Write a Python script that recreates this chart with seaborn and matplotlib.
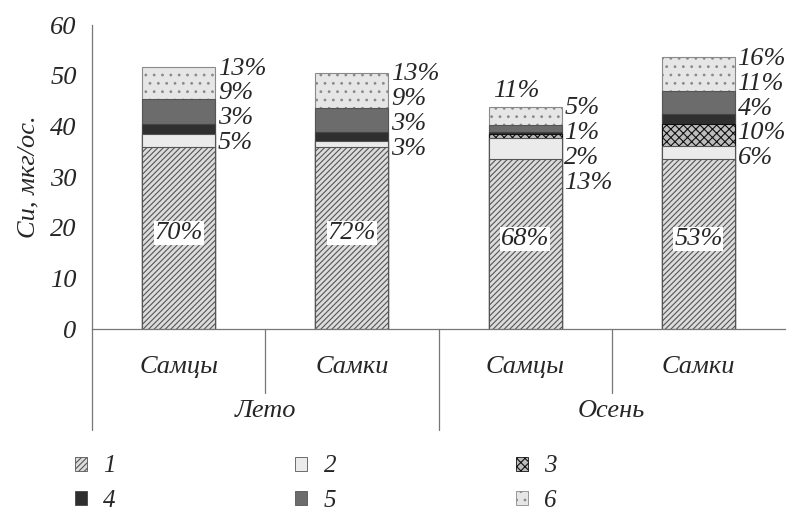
import matplotlib
matplotlib.use("Agg")
import matplotlib.pyplot as plt
import matplotlib.transforms as mtransforms
from matplotlib import font_manager as fm
from matplotlib.patches import Patch
import numpy as np
import seaborn as sns

# ---------------- data ----------------
seasons = ["Лето", "Осень"]
sexes = ["Самцы", "Самки", "Самцы", "Самки"]
bar_ids = ["Лето Самцы", "Лето Самки", "Осень Самцы", "Осень Самки"]
seg1 = [36.0, 35.9, 33.5, 33.5]
seg2 = [2.4, 1.2, 4.2, 2.6]
seg3 = [0.0, 0.0, 0.8, 4.3]
seg4 = [2.0, 1.7, 0.4, 2.0]
seg5 = [4.9, 4.9, 1.3, 4.6]
seg6 = [6.4, 6.9, 3.7, 6.6]
pct1 = [70, 72, 68, 53]
pct2 = [5, 3, 13, 6]
pct3 = [0, 0, 2, 10]
pct4 = [3, 3, 1, 4]
pct5 = [9, 9, 5, 11]
pct6 = [13, 13, 11, 16]
legend_labels = ["1", "2", "3", "4", "5", "6"]
top_label_above = [False, False, True, False]

# ---------------- style ----------------
sns.set_style("white")
names = {f.name for f in fm.fontManager.ttflist}
serif_name = "Liberation Serif" if "Liberation Serif" in names else "DejaVu Serif"
FONT = [serif_name, "DejaVu Serif"]
plt.rcParams["font.family"] = FONT
plt.rcParams["font.style"] = "italic"
plt.rcParams["hatch.linewidth"] = 0.8
FS = 19

segs = [seg1, seg2, seg3, seg4, seg5, seg6]
pcts = [pct1, pct2, pct3, pct4, pct5, pct6]
styles = [
    dict(color="#dcdcdc", hatch="//////", edgecolor="#555555"),
    dict(color="#ebebeb", hatch=None, edgecolor="#555555"),
    dict(color="#bdbdbd", hatch="xxxx", edgecolor="#111111"),
    dict(color="#2f2f2f", hatch=None, edgecolor="#444444"),
    dict(color="#6c6c6c", hatch=None, edgecolor="#555555"),
    dict(color="#e6e6e6", hatch="..", edgecolor="#8a8a8a"),
]

fig = plt.figure(figsize=(7.92, 5.16), dpi=100)
ax = fig.add_axes([92 / 792, 1 - 329 / 516, (785 - 92) / 792, (329 - 25) / 516])

seg_arr = np.array(segs)
cum = np.cumsum(seg_arr, axis=0)
W = 0.42
# draw cumulative layers from the tallest down so that lower layers overlay
for k in range(5, -1, -1):
    st = styles[k]
    sns.barplot(x=bar_ids, y=cum[k], order=bar_ids, ax=ax, color=st["color"],
                hatch=st["hatch"], edgecolor=st["edgecolor"], linewidth=0.8,
                width=W, errorbar=None, saturation=1)

ax.set_xlim(-0.5, 3.5)
ax.set_ylim(0, 60)
ax.set_yticks(range(0, 61, 10))
ax.set_yticklabels([str(v) for v in range(0, 61, 10)], fontsize=FS, style="italic")
ax.set_xticks([])
ax.set_xlabel("")
ax.set_ylabel("Cu, мкг/ос.", fontsize=FS, style="italic", labelpad=8)
ax.tick_params(axis="y", length=5, color="#777777", width=0.8, pad=6)
for s in ["top", "right"]:
    ax.spines[s].set_visible(False)
for s in ["left", "bottom"]:
    ax.spines[s].set_color("#777777")
    ax.spines[s].set_linewidth(0.9)

# percent labels
totals = cum[-1]
step = 4.9
for i in range(4):
    x_right = i + W / 2
    y = totals[i]
    labels = [(k, pcts[k][i]) for k in range(5, 0, -1) if segs[k][i] > 0 and pcts[k][i] > 0]
    first = True
    for k, p in labels:
        if first and top_label_above[i]:
            ax.annotate(f"{p}%", xy=(i - 0.05, totals[i]), xytext=(0, 3),
                        textcoords="offset points", ha="center", va="bottom",
                        fontsize=FS, style="italic")
            first = False
            continue
        ax.annotate(f"{p}%", xy=(x_right, y - 0.3), xytext=(2, 0),
                    textcoords="offset points", ha="left", va="center",
                    fontsize=FS, style="italic", annotation_clip=False)
        y -= step
        first = False
    ax.text(i, seg1[i] / 2 + 1.0, f"{pcts[0][i]}%", ha="center", va="center",
            fontsize=FS, style="italic",
            bbox=dict(facecolor="white", edgecolor="none", pad=0.6))

# two-level category axis
trans = mtransforms.blended_transform_factory(ax.transData, ax.transAxes)
h_px = 329 - 25
for i, s in enumerate(sexes):
    ax.text(i, -38 / h_px, s, transform=trans, ha="center", va="center",
            fontsize=FS, style="italic")
for g, name in enumerate(seasons):
    ax.text(2 * g + 0.5, -82 / h_px, name, transform=trans, ha="center", va="center",
            fontsize=FS, style="italic")
for xb in [-0.5, 1.5]:
    ax.plot([xb, xb], [0, -101 / h_px], transform=trans, color="#777777", lw=0.9, clip_on=False)
for xb in [0.5, 2.5]:
    ax.plot([xb, xb], [0, -64 / h_px], transform=trans, color="#777777", lw=0.9, clip_on=False)

# legend, filled row by row
handles = []
for k in range(6):
    st = styles[k]
    handles.append(Patch(facecolor=st["color"], hatch=st["hatch"], edgecolor=st["edgecolor"],
                         linewidth=0.6, label=legend_labels[k]))
order = [0, 3, 1, 4, 2, 5]
fig.legend(handles=[handles[j] for j in order], ncol=3, loc="upper left",
           bbox_to_anchor=(62 / 792, 1 - 443 / 516), frameon=False,
           prop=dict(family=FONT, style="italic", size=18),
           handlelength=0.48, handleheight=0.48, handletextpad=0.65,
           columnspacing=7.2, labelspacing=0.5, borderpad=0)

fig.savefig("out.png", dpi=100)
